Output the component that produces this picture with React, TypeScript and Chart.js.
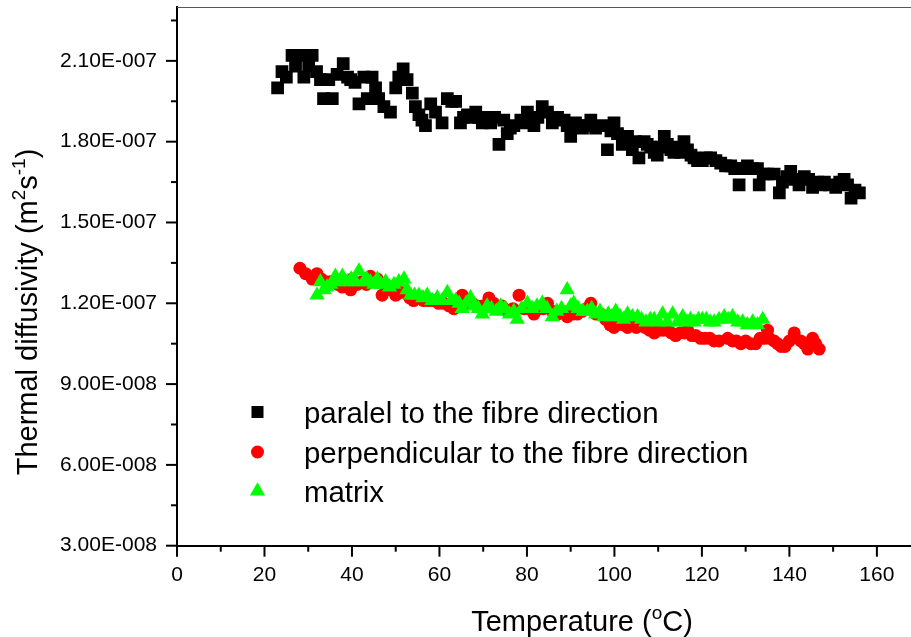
import React, { useEffect, useRef } from 'react';
import { Chart, registerables } from 'chart.js';

Chart.register(...registerables);

// ---- data (diffusivity values in units of 1E-7 m^2/s) ----
const paralelT = [
  23.0, 24.0, 25.0, 26.3, 27.1, 28.2, 29.0, 30.1, 30.9, 31.9, 32.8, 33.5, 34.7, 35.5, 36.6, 38.0, 39.0, 39.7,
  40.7, 41.6, 42.7, 43.5, 44.6, 45.4, 46.1, 47.3, 48.8, 50.0, 50.7, 51.7, 52.6, 53.8, 54.5, 55.3, 56.0, 56.8,
  58.0, 59.1, 60.6, 61.8, 62.8, 63.7, 64.8, 65.5, 66.4, 67.3, 68.3, 69.0, 69.8, 70.7, 71.7, 72.6, 73.6, 74.7,
  75.5, 76.2, 77.0, 78.6, 79.4, 80.1, 81.0, 81.6, 82.5, 83.5, 84.7, 85.8, 87.0, 88.5, 89.2, 90.0, 91.1, 92.0,
  92.7, 93.6, 94.6, 95.7, 97.3, 98.4, 99.2, 99.9, 100.7, 101.8, 102.4, 103.0, 104.1, 104.8, 105.6, 106.8,
  107.5, 108.3, 109.1, 109.8, 110.6, 111.4, 112.1, 112.9, 113.6, 114.4, 115.2, 115.9, 116.7, 117.5, 118.2,
  119.0, 120.1, 121.0, 122.0, 123.2, 124.3, 125.4, 126.6, 127.5, 128.5, 129.4, 130.4, 131.5, 132.7, 133.1,
  134.0, 135.0, 136.5, 137.7, 138.4, 139.4, 140.3, 141.2, 142.2, 143.4, 144.4, 145.3, 146.5, 147.2, 148.0,
  149.2, 150.6, 151.5, 152.5, 153.3, 154.1, 155.0, 156.0,
];
const paralelD = [
  2.00, 2.06, 2.04, 2.12, 2.08, 2.12, 2.04, 2.08, 2.12, 2.06, 2.03, 1.96, 2.03, 1.96, 2.05, 2.09, 2.04, 2.03,
  2.02, 1.94, 2.04, 1.96, 2.04, 2.00, 1.96, 1.93, 1.91, 2.00, 2.04, 2.07, 2.03, 1.98, 1.93, 1.90, 1.88, 1.86,
  1.94, 1.91, 1.87, 1.96, 1.95, 1.95, 1.87, 1.89, 1.90, 1.89, 1.91, 1.89, 1.87, 1.89, 1.87, 1.89, 1.79, 1.88,
  1.83, 1.85, 1.86, 1.88, 1.87, 1.91, 1.88, 1.86, 1.89, 1.93, 1.91, 1.87, 1.89, 1.88, 1.86, 1.82, 1.87, 1.86,
  1.85, 1.86, 1.88, 1.85, 1.86, 1.77, 1.84, 1.87, 1.83, 1.79, 1.81, 1.82, 1.77, 1.80, 1.74, 1.80,
  1.79, 1.78, 1.76, 1.75, 1.78, 1.82, 1.79, 1.77, 1.76, 1.78, 1.76, 1.80, 1.77, 1.75, 1.74,
  1.73, 1.73, 1.74, 1.74, 1.73, 1.72, 1.71, 1.71, 1.70, 1.64, 1.70, 1.71, 1.70, 1.70, 1.64,
  1.68, 1.68, 1.68, 1.61, 1.65, 1.67, 1.69, 1.66, 1.64, 1.67, 1.66, 1.63, 1.65, 1.64, 1.65,
  1.64, 1.63, 1.65, 1.66, 1.64, 1.59, 1.62, 1.61,
];

const perpT = [
  28.1, 29.4, 30.9, 32.0, 33.0, 33.9, 35.0, 35.8, 36.8, 37.8, 38.8, 39.7, 40.0, 41.2, 42.3, 43.3, 44.2, 45.8,
  46.9, 48.1, 49.0, 50.0, 51.1, 52.2, 53.2, 54.1, 55.3, 56.4, 57.6, 58.7, 59.8, 61.0, 62.2, 63.3, 64.3, 65.2,
  66.4, 67.5, 68.6, 69.8, 71.3, 72.4, 73.2, 74.3, 75.5, 76.8, 78.2, 79.3, 80.4, 81.6, 82.6, 83.7, 84.7, 85.8,
  87.0, 88.1, 89.2, 90.3, 91.5, 92.6, 93.6, 94.6, 95.8, 96.9, 98.0, 99.0, 99.9, 101.0, 102.0, 103.0, 104.0,
  105.0, 106.0, 107.0, 108.0, 109.1, 110.1, 111.1, 112.1, 113.0, 114.0, 115.0, 116.0, 116.7, 117.7, 118.6,
  119.7, 120.7, 121.8, 122.8, 123.9, 125.9, 127.0, 127.9, 128.9, 130.0, 131.2, 132.3, 133.3, 134.2, 135.0,
  135.4, 136.5, 137.3, 138.1, 139.0, 140.0, 141.1, 142.6, 143.4, 144.2, 145.3, 146.0, 146.8,
];
const perpD = [
  1.33, 1.31, 1.29, 1.31, 1.29, 1.28, 1.28, 1.28, 1.27, 1.26, 1.27, 1.25, 1.29, 1.27, 1.28, 1.27, 1.30, 1.29,
  1.23, 1.26, 1.25, 1.23, 1.24, 1.24, 1.22, 1.21, 1.22, 1.21, 1.21, 1.21, 1.20, 1.20, 1.19, 1.18, 1.20, 1.23,
  1.20, 1.20, 1.19, 1.19, 1.22, 1.20, 1.18, 1.19, 1.17, 1.18, 1.23, 1.18, 1.18, 1.16, 1.18, 1.18, 1.20, 1.17,
  1.16, 1.17, 1.15, 1.16, 1.16, 1.17, 1.18, 1.20, 1.16, 1.16, 1.14, 1.12, 1.11, 1.13, 1.12, 1.11, 1.12,
  1.11, 1.12, 1.11, 1.10, 1.09, 1.10, 1.10, 1.10, 1.09, 1.08, 1.09, 1.09, 1.10, 1.08, 1.08,
  1.07, 1.07, 1.07, 1.06, 1.06, 1.07, 1.06, 1.06, 1.05, 1.06, 1.05, 1.05, 1.07, 1.07, 1.10,
  1.07, 1.06, 1.05, 1.04, 1.04, 1.06, 1.09, 1.06, 1.05, 1.03, 1.07, 1.05, 1.03,
];

const matrixT = [
  32.0, 32.8, 33.6, 34.3, 35.2, 36.2, 37.0, 37.8, 38.9, 39.8, 40.8, 41.6, 42.7, 43.4, 44.2, 45.0, 45.8, 46.7,
  47.7, 48.6, 49.6, 50.7, 51.9, 52.6, 53.4, 54.3, 55.3, 56.2, 57.2, 58.3, 59.5, 60.6, 61.8, 62.7, 63.7, 64.5,
  65.2, 66.1, 67.1, 68.0, 68.9, 69.8, 70.9, 71.9, 73.0, 74.0, 75.0, 76.0, 77.0, 77.8, 78.8, 80.1, 81.2, 82.3,
  83.5, 84.6, 85.8, 86.8, 87.9, 89.2, 90.0, 90.7, 91.7, 92.8, 93.8, 94.8, 95.7, 96.7, 97.6, 98.6, 99.4, 100.3,
  101.3, 102.1, 103.0, 104.1, 105.3, 106.2, 107.2, 108.2, 109.1, 110.1, 111.0, 112.1, 113.3, 114.4, 115.6,
  116.6, 117.4, 118.2, 119.2, 120.1, 121.0, 121.9, 122.8, 123.9, 125.1, 126.0, 127.0, 128.2, 129.3, 130.4,
  131.6, 132.7, 133.9,
];
const matrixD = [
  1.23, 1.28, 1.25, 1.26, 1.27, 1.30, 1.28, 1.30, 1.28, 1.29, 1.28, 1.32, 1.28, 1.29, 1.28, 1.27, 1.29, 1.27,
  1.28, 1.26, 1.27, 1.28, 1.29, 1.25, 1.23, 1.23, 1.23, 1.22, 1.23, 1.21, 1.22, 1.21, 1.24, 1.21, 1.21, 1.20,
  1.18, 1.20, 1.22, 1.19, 1.18, 1.16, 1.19, 1.18, 1.17, 1.19, 1.18, 1.16, 1.17, 1.14, 1.18, 1.20, 1.18, 1.19,
  1.20, 1.18, 1.15, 1.17, 1.18, 1.25, 1.19, 1.20, 1.18, 1.17, 1.17, 1.18, 1.16, 1.17, 1.15, 1.16, 1.15, 1.17,
  1.15, 1.14, 1.16, 1.15, 1.15, 1.14, 1.13, 1.14, 1.14, 1.13, 1.16, 1.13, 1.16, 1.13, 1.15,
  1.13, 1.14, 1.13, 1.14, 1.14, 1.14, 1.13, 1.13, 1.14, 1.15, 1.14, 1.15, 1.13, 1.13, 1.12,
  1.13, 1.12, 1.14,
];

const seriesLabels = [
  'paralel to the fibre direction',
  'perpendicular to the fibre direction',
  'matrix',
];

const xMajorTicks = [0, 20, 40, 60, 80, 100, 120, 140, 160];
const xMinorTicks = [10, 30, 50, 70, 90, 110, 130, 150];
const yMajorTicks = [0.3, 0.6, 0.9, 1.2, 1.5, 1.8, 2.1];
const yMinorTicks = [0.45, 0.75, 1.05, 1.35, 1.65, 1.95, 2.25];
const yTickLabels = ['3.00E-008', '6.00E-008', '9.00E-008', '1.20E-007', '1.50E-007', '1.80E-007', '2.10E-007'];

const UNIT = 1e-7;
const FONT = '"Liberation Sans", Arial, sans-serif';
const COLORS = ['#000000', '#ff0000', '#00ff00'];

export default function App() {
  const ref = useRef<HTMLCanvasElement>(null);

  useEffect(() => {
    document.body.style.margin = '0';
    const canvas = ref.current;
    if (!canvas) return;

    const pts = (xs: number[], ys: number[]) => xs.map((x, i) => ({ x, y: ys[i] * UNIT }));

    const decor = {
      id: 'decor',
      afterDraw(chart: any) {
        const { ctx, chartArea, scales } = chart;
        const xs = scales.x;
        const ys = scales.y;
        ctx.save();
        // top frame line
        ctx.strokeStyle = '#555';
        ctx.lineWidth = 1;
        ctx.beginPath();
        ctx.moveTo(chartArea.left, Math.round(chartArea.top) + 0.5);
        ctx.lineTo(chartArea.right, Math.round(chartArea.top) + 0.5);
        ctx.stroke();

        // ticks
        ctx.strokeStyle = '#000';
        ctx.lineWidth = 2;
        const b = chartArea.bottom;
        const l = chartArea.left;
        const seg = (x1: number, y1: number, x2: number, y2: number) => {
          ctx.beginPath();
          ctx.moveTo(x1, y1);
          ctx.lineTo(x2, y2);
          ctx.stroke();
        };
        xMajorTicks.forEach((v) => { const p = xs.getPixelForValue(v); seg(p, b, p, b + 11); });
        xMinorTicks.forEach((v) => { const p = xs.getPixelForValue(v); seg(p, b, p, b + 6); });
        yMajorTicks.forEach((v) => { const p = ys.getPixelForValue(v * UNIT); seg(l, p, l - 11, p); });
        yMinorTicks.forEach((v) => { const p = ys.getPixelForValue(v * UNIT); seg(l, p, l - 6, p); });

        // legend
        const lx = 257.5;
        const rowsY = [412, 452, 491];
        const baseY = [423, 463, 502];
        ctx.fillStyle = COLORS[0];
        ctx.fillRect(lx - 6, rowsY[0] - 6, 12, 12);
        ctx.fillStyle = COLORS[1];
        ctx.beginPath();
        ctx.arc(lx, rowsY[1], 6.5, 0, Math.PI * 2);
        ctx.fill();
        ctx.fillStyle = COLORS[2];
        const r = 8.8;
        ctx.beginPath();
        ctx.moveTo(lx, rowsY[2] - r);
        ctx.lineTo(lx + r * 0.866, rowsY[2] + r * 0.5);
        ctx.lineTo(lx - r * 0.866, rowsY[2] + r * 0.5);
        ctx.closePath();
        ctx.fill();
        ctx.fillStyle = '#000';
        ctx.font = '29.4px ' + FONT;
        ctx.textAlign = 'left';
        ctx.textBaseline = 'alphabetic';
        seriesLabels.forEach((t, i) => ctx.fillText(t, 304, baseY[i]));

        // axis titles with superscripts
        const big = '29px ' + FONT;
        const small = '19px ' + FONT;
        const drawParts = (parts: [string, boolean][], cx: number, by: number) => {
          let total = 0;
          const widths = parts.map(([s, sup]) => {
            ctx.font = sup ? small : big;
            const w = ctx.measureText(s).width;
            total += w;
            return w;
          });
          let x = cx - total / 2;
          parts.forEach(([s, sup], i) => {
            ctx.font = sup ? small : big;
            ctx.fillText(s, x, sup ? by - 12 : by);
            x += widths[i];
          });
        };
        drawParts([['Temperature (', false], ['o', true], ['C)', false]], 582, 631);
        ctx.save();
        ctx.translate(37, 312);
        ctx.rotate(-Math.PI / 2);
        drawParts([['Thermal diffusivity (m', false], ['2', true], ['s', false], ['-1', true], [')', false]], 0, 0);
        ctx.restore();

        ctx.restore();
      },
    };

    const zeroPad = (s: any) => {
      s.paddingTop = 0;
      s.paddingBottom = 0;
      s.paddingLeft = 0;
      s.paddingRight = 0;
    };

    const chart = new Chart(canvas, {
      type: 'scatter',
      data: {
        datasets: [
          {
            label: seriesLabels[0],
            data: pts(paralelT, paralelD),
            pointStyle: 'rect',
            pointRadius: 9,
            backgroundColor: COLORS[0],
            borderColor: COLORS[0],
            borderWidth: 0,
            order: 2,
          },
          {
            label: seriesLabels[1],
            data: pts(perpT, perpD),
            pointStyle: 'circle',
            pointRadius: 6.5,
            backgroundColor: COLORS[1],
            borderColor: COLORS[1],
            borderWidth: 0,
            order: 1,
          },
          {
            label: seriesLabels[2],
            data: pts(matrixT, matrixD),
            pointStyle: 'triangle',
            pointRadius: 8.8,
            backgroundColor: COLORS[2],
            borderColor: COLORS[2],
            borderWidth: 0,
            order: 0,
          },
        ],
      },
      options: {
        responsive: false,
        animation: false,
        layout: { autoPadding: false, padding: { top: 7, right: 0, left: 0, bottom: 0 } },
        plugins: { legend: { display: false }, tooltip: { enabled: false } },
        scales: {
          x: {
            type: 'linear',
            min: 0,
            max: 167.8,
            grid: { display: false, drawTicks: false },
            border: { display: true, color: '#000', width: 2 },
            afterBuildTicks: (s: any) => { s.ticks = xMajorTicks.map((v) => ({ value: v })); },
            afterFit: (s: any) => { s.height = 91.3; zeroPad(s); },
            ticks: {
              color: '#000',
              font: { family: FONT, size: 21 },
              padding: 17,
              maxRotation: 0,
              autoSkip: false,
              callback: (v: any) => String(v),
            },
          },
          y: {
            type: 'linear',
            min: 3e-8,
            max: 2.3e-7,
            grid: { display: false, drawTicks: false },
            border: { display: true, color: '#000', width: 2 },
            afterBuildTicks: (s: any) => { s.ticks = yMajorTicks.map((v) => ({ value: v * UNIT })); },
            afterFit: (s: any) => { s.width = 177; zeroPad(s); },
            ticks: {
              color: '#000',
              font: { family: FONT, size: 21 },
              padding: 20,
              autoSkip: false,
              callback: (_v: any, i: number) => yTickLabels[i],
            },
          },
        },
      },
      plugins: [decor],
    });

    return () => chart.destroy();
  }, []);

  return (
    <div style={{ width: 911, height: 637 }}>
      <canvas ref={ref} width={911} height={637} style={{ display: 'block' }} />
    </div>
  );
}
